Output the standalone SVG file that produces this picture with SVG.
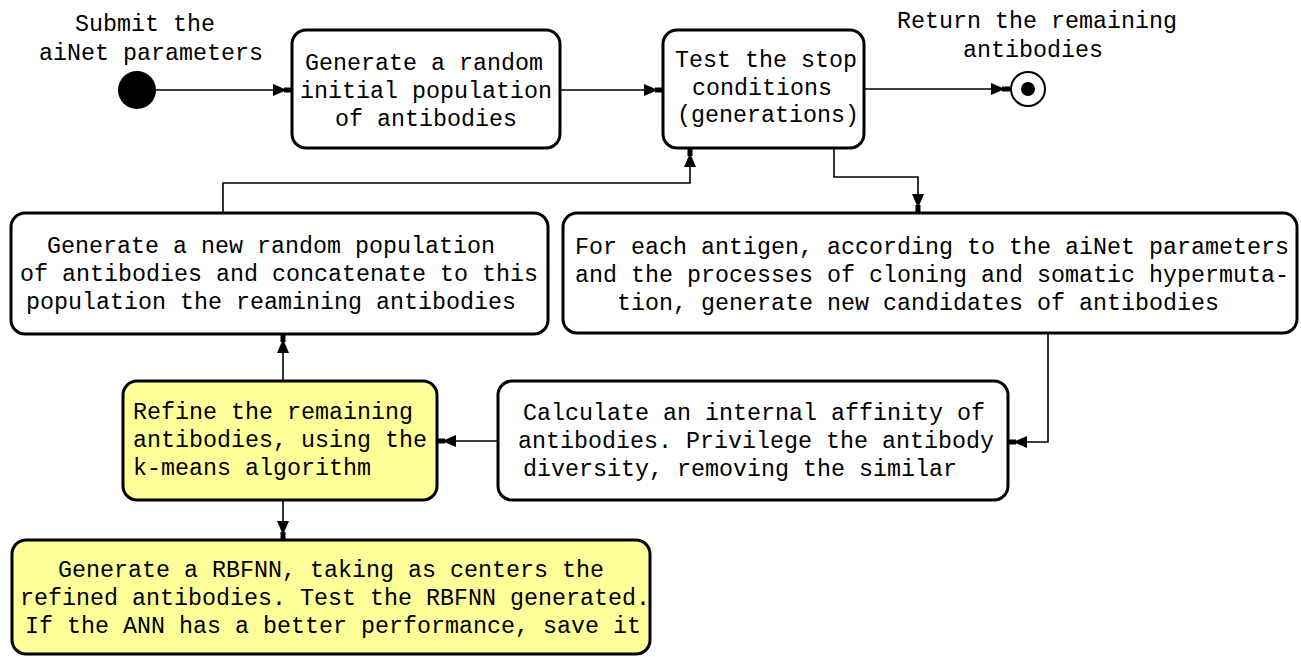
<svg xmlns="http://www.w3.org/2000/svg" width="1301" height="657" viewBox="0 0 1301 657">
<style>
.box{fill:#ffffff;stroke:#000;stroke-width:3}
.yel{fill:#ffff99;stroke:#000;stroke-width:3}
.t{font-family:"Liberation Mono","Courier New",monospace;font-size:23.33px;fill:#000}
.c{fill:none;stroke:#000;stroke-width:1.6}
</style>
<defs>
<marker id="ah" viewBox="0 0 20 14" refX="20" refY="7" markerWidth="20" markerHeight="14" markerUnits="userSpaceOnUse" orient="auto">
<path d="M1,1 L15,7 L1,13 Z" fill="#000"/>
<rect x="12" y="4.5" width="8" height="5" fill="#000"/>
</marker>
</defs>
<rect width="1301" height="657" fill="#fff"/>
<g id="connectors">
<path class="c" d="M156,90 H292" marker-end="url(#ah)"/>
<path class="c" d="M560,90 H663" marker-end="url(#ah)"/>
<path class="c" d="M864,89 H1010" marker-end="url(#ah)"/>
<path class="c" d="M834,148 V177 H918 V213" marker-end="url(#ah)"/>
<path class="c" d="M1048,333 V442 H1008" marker-end="url(#ah)"/>
<path class="c" d="M498,441 H437" marker-end="url(#ah)"/>
<path class="c" d="M283,381 V334" marker-end="url(#ah)"/>
<path class="c" d="M223,213 V183 H690 V148" marker-end="url(#ah)"/>
<path class="c" d="M283,500 V540" marker-end="url(#ah)"/>
</g>
<g id="start">
<circle cx="137" cy="90" r="19" fill="#000"/>
<text class="t" x="75" y="31">Submit the</text>
<text class="t" x="39" y="60">aiNet parameters</text>
</g>
<g id="end">
<circle cx="1028" cy="89" r="17" fill="#fff" stroke="#000" stroke-width="2"/>
<circle cx="1028" cy="89" r="7" fill="#000"/>
<text class="t" x="897" y="28">Return the remaining</text>
<text class="t" x="963" y="57">antibodies</text>
</g>
<g id="n1">
<rect class="box" x="292" y="30" width="268" height="118" rx="14"/>
<text class="t" x="305" y="70">Generate a random</text>
<text class="t" x="300" y="98">initial population</text>
<text class="t" x="335" y="126">of antibodies</text>
</g>
<g id="n2">
<rect class="box" x="663" y="30" width="201" height="118" rx="14"/>
<text class="t" x="675" y="67">Test the stop</text>
<text class="t" x="692" y="95">conditions</text>
<text class="t" x="677" y="122">(generations)</text>
</g>
<g id="n3">
<rect class="box" x="11" y="213" width="537" height="121" rx="14"/>
<text class="t" x="47" y="253">Generate a new random population</text>
<text class="t" x="20" y="281">of antibodies and concatenate to this</text>
<text class="t" x="26" y="309">population the reamining antibodies</text>
</g>
<g id="n4">
<rect class="box" x="563" y="213" width="734" height="120" rx="14"/>
<text class="t" x="575" y="254">For each antigen, according to the aiNet parameters</text>
<text class="t" x="575" y="282">and the processes of cloning and somatic hypermuta-</text>
<text class="t" x="617" y="310">tion, generate new candidates of antibodies</text>
</g>
<g id="n5">
<rect class="box" x="498" y="381" width="510" height="119" rx="14"/>
<text class="t" x="523" y="420">Calculate an internal affinity of</text>
<text class="t" x="518" y="448">antibodies. Privilege the antibody</text>
<text class="t" x="523" y="476">diversity, removing the similar</text>
</g>
<g id="n6">
<rect class="yel" x="123" y="381" width="314" height="119" rx="14"/>
<text class="t" x="133" y="419">Refine the remaining</text>
<text class="t" x="133" y="447">antibodies, using the</text>
<text class="t" x="133" y="475">k-means algorithm</text>
</g>
<g id="n7">
<rect class="yel" x="12" y="540" width="638" height="114" rx="14"/>
<text class="t" x="58" y="577">Generate a RBFNN, taking as centers the</text>
<text class="t" x="20" y="605">refined antibodies. Test the RBFNN generated.</text>
<text class="t" x="25" y="633">If the ANN has a better performance, save it</text>
</g>
</svg>
